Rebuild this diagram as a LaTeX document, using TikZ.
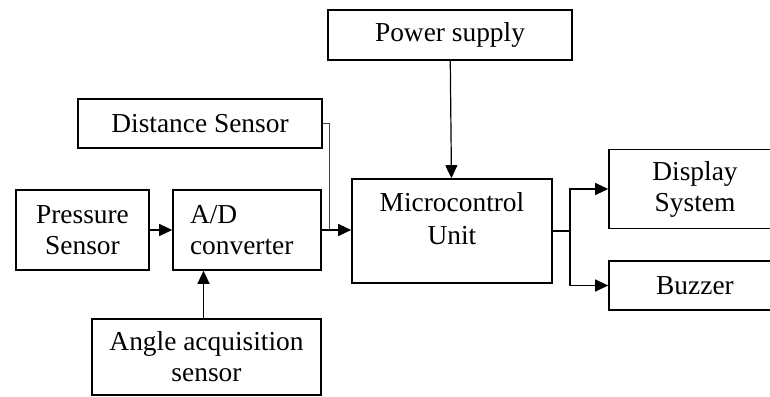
\documentclass[tikz,border=0pt]{standalone}
\usepackage{fontspec}
\setmainfont{Liberation Serif}
\usetikzlibrary{arrows.meta,positioning}

\begin{document}
\begin{tikzpicture}[x=0.5pt, y=-0.5pt,
    block/.style={draw, line width=0.8pt, rectangle, align=center,
      font=\fontsize{13.7pt}{15.5pt}\selectfont},
    flow/.style={-{Triangle[length=6.5pt,width=6pt]}, line width=0.6pt},
    feed/.style={line width=0.4pt, black!75}]
    % Frame
    \useasboundingbox (0,0) rectangle (770,396);
    \clip (0,0) rectangle (770,396);

    % Blocks
    \node[block, minimum width=122pt, minimum height=25pt] (power) at (450,35) {Power supply};
    \node[block, minimum width=122pt, minimum height=24.5pt] (dist) at (200,123.5) {Distance Sensor};
    \node[block, minimum width=66.5pt, minimum height=40pt] (press) at (82.5,230) {Pressure\\Sensor};
    \node[block, minimum height=40pt, text width=57pt, inner xsep=8.5pt, align=left] (adc) at (247,230) {A/D\\converter};
    \node[block, minimum width=100pt, minimum height=52pt,
      label={[align=center, yshift=6pt, font=\fontsize{13.7pt}{16.5pt}\selectfont]center:Microcontrol\\Unit}] (mcu) at (452,231) {};
    \node[block, minimum width=86pt, minimum height=39.5pt] (disp) at (695,189) {Display\\System};
    \node[block, minimum width=86pt, minimum height=24.5pt] (buzz) at (695,285.5) {Buzzer};
    \node[block, minimum width=114.5pt, minimum height=38pt] (angle) at (206.5,357) {Angle acquisition\\sensor};

    % Junctions
    \coordinate (jd) at (329,230);
    \coordinate (split) at (570,231);

    % Inputs
    \draw[flow] (press) -- (adc);
    \draw[flow] ([xshift=-1.5pt]angle.north) -- ([xshift=-1.5pt]angle.north |- adc.south);
    \draw[flow] (adc) -- (adc -| mcu.west);
    \draw[feed] (dist.east) -| (jd);
    \draw[flow] (power) -- (mcu);

    % Outputs
    \draw[line width=0.6pt] (mcu.east) -- (split);
    \draw[flow] (split) |- (disp.west);
    \draw[flow] (split) |- (buzz.west);
  \end{tikzpicture}
\end{document}
